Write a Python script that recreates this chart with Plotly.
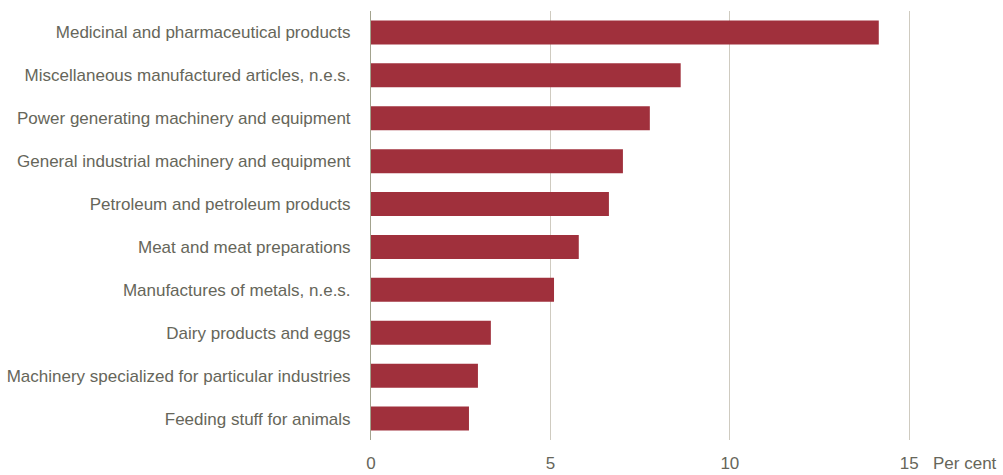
import plotly.graph_objects as go

categories = [
    "Medicinal and pharmaceutical products",
    "Miscellaneous manufactured articles, n.e.s.",
    "Power generating machinery and equipment",
    "General industrial machinery and equipment",
    "Petroleum and petroleum products",
    "Meat and meat preparations",
    "Manufactures of metals, n.e.s.",
    "Dairy products and eggs",
    "Machinery specialized for particular industries",
    "Feeding stuff for animals",
]
values = [14.15, 8.63, 7.77, 7.02, 6.63, 5.79, 5.10, 3.34, 2.98, 2.73]
tick_vals = [0, 5, 10, 15]
unit_label = "Per cent"

FONT = "Liberation Sans Narrow, Arial Narrow, Liberation Sans, sans-serif"
TXT = "#66665a"

fig = go.Figure(go.Bar(
    x=values, y=categories, orientation="h",
    marker=dict(color="#A0303C", line=dict(width=0)),
    width=0.56,
))
fig.update_layout(
    width=1003, height=475,
    margin=dict(l=371, r=4, t=11, b=35),
    paper_bgcolor="white", plot_bgcolor="white",
    showlegend=False,
    font=dict(family=FONT, size=17, color=TXT),
    bargap=0.44,
)
fig.update_xaxes(
    range=[0, 17.5], tickvals=tick_vals, showgrid=True, gridcolor="#cfcbc0", gridwidth=1,
    zeroline=False, showline=False, ticks="", ticklabelstandoff=11, automargin=False,
    tickfont=dict(family=FONT, size=17, color=TXT),
)
fig.update_yaxes(
    autorange="reversed", showline=True, linecolor="#a3a38e", linewidth=1, automargin=False,
    ticks="", ticklabelstandoff=16, tickfont=dict(family=FONT, size=17, color=TXT),
)
fig.add_annotation(
    x=1.0, xref="paper", y=(475 - 35 - 463) / (475 - 35 - 11), yref="paper",
    yanchor="middle", xanchor="right",
    text=unit_label, showarrow=False, font=dict(family=FONT, size=17, color=TXT),
)
fig.write_html("out.html")
